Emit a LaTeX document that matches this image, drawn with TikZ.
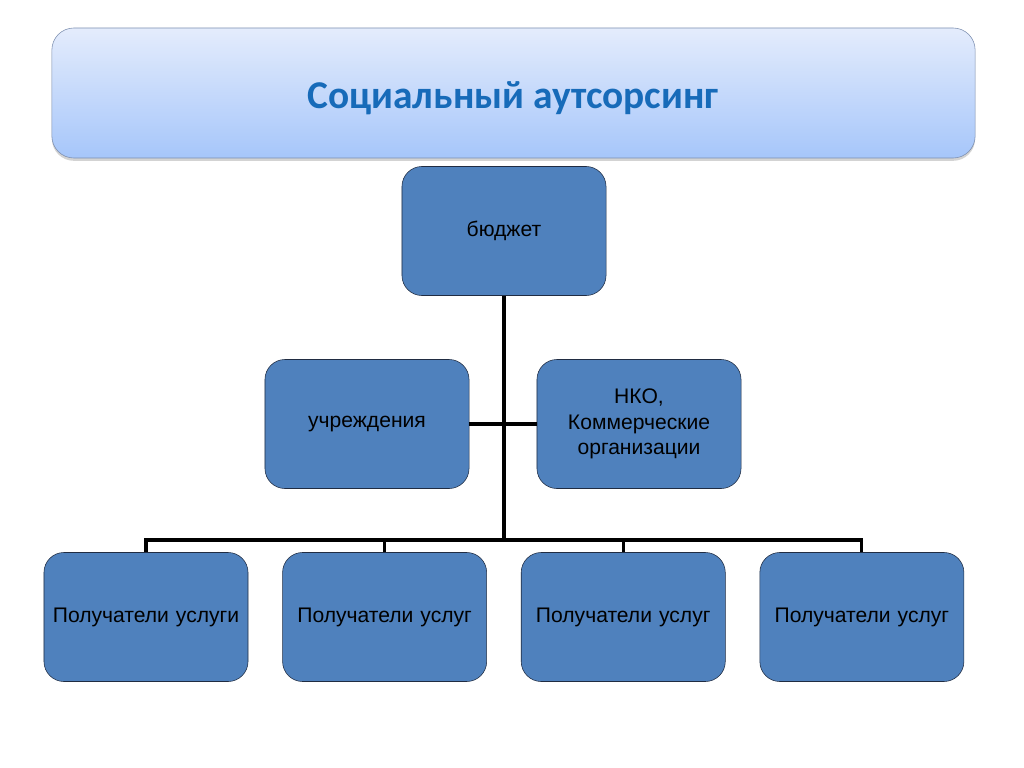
\documentclass[tikz,border=0pt]{standalone}
\usepackage{fontspec}
\setmainfont{Liberation Sans}
\newfontfamily\titlefont{Carlito}
\usetikzlibrary{positioning, shadows, calc}
\definecolor{boxblue}{RGB}{79,129,189}
\definecolor{boxline}{RGB}{32,44,66}
\definecolor{titleblue}{RGB}{23,107,185}
\definecolor{titletop}{RGB}{228,236,252}
\definecolor{titlebot}{RGB}{166,198,250}
\definecolor{titleline}{RGB}{125,143,176}

\begin{document}
\begin{tikzpicture}[x=0.025cm, y=-0.025cm,
		unit/.style={rectangle, rounded corners=0.5cm, draw=boxline, fill=boxblue, minimum width=5.1cm, minimum height=3.225cm, text width=4.9cm, align=center, font=\fontsize{15}{18}\selectfont, inner sep=0pt},
		link/.style={line width=2.2pt, black}]
		\useasboundingbox (0,0) rectangle (1024,768);
		% title
		\node[rectangle, rounded corners=0.55cm, draw=titleline, top color=titletop, bottom color=titlebot, minimum width=23.075cm, minimum height=3.25cm, drop shadow={opacity=0.35, shadow xshift=0pt, shadow yshift=-2pt}] (title) at (513.5,93) {};
		\node[text=titleblue, font=\titlefont\bfseries\fontsize{28}{32}\selectfont] (titletext) at (513,98) {Социальный аутсорсинг};
		% junction of the lower row
		\coordinate (bus) at (503,540);
		% top level
		\node[unit] (budget) at (504,231) {бюджет};
		% middle level
		\node[unit] (inst) at (367,424) {учреждения};
		\node[unit] (nko) at (639,424) {НКО,\\ Коммерческие организации};
		% recipients
		\node[unit] (rec1) at (146,617) {Получатели услуги};
		\node[unit, right=0.85cm of rec1] (rec2) {Получатели услуг};
		\node[unit, right=0.85cm of rec2] (rec3) {Получатели услуг};
		\node[unit, right=0.85cm of rec3] (rec4) {Получатели услуг};
		% connectors
		\draw[link] (budget) -- (budget.south |- bus);
		\draw[link] (inst) -- (nko);
		\draw[link] ([xshift=-1.1pt]rec1.north |- bus) -- ([xshift=1.1pt]rec4.north |- bus);
		\draw[link] (rec1) -- (rec1.north |- bus);
		\draw[link] (rec2) -- (rec2.north |- bus);
		\draw[link] (rec3) -- (rec3.north |- bus);
		\draw[link] (rec4) -- (rec4.north |- bus);
	\end{tikzpicture}
\end{document}
